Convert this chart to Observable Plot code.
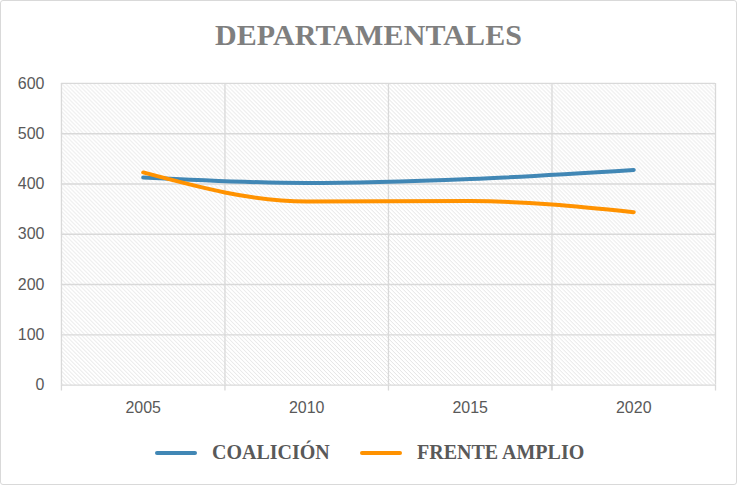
<!DOCTYPE html>
<html>
<head>
<meta charset="utf-8">
<script src="https://cdn.jsdelivr.net/npm/d3@7"></script>
<script src="https://cdn.jsdelivr.net/npm/@observablehq/plot@0.6"></script>
<style>
  html, body { margin: 0; padding: 0; background: #fff; }
  #frame { position: relative; width: 735px; height: 483px; border: 1px solid #d9d9d9; border-radius: 3px; overflow: hidden; background: #fff; }
  #title { position: absolute; left: 0; width: 735px; top: 17px; text-align: center; font-family: "Liberation Serif", serif; font-weight: bold; font-size: 30px; color: #7f7f7f; letter-spacing: 0.1px; }
  #chart { position: absolute; left: -1px; top: 61px; }
  #legend { position: absolute; top: 440px; left: 0; width: 735px; font-family: "Liberation Serif", serif; font-weight: bold; font-size: 20px; color: #595959; }
  .item { position: absolute; display: flex; align-items: center; }
  .swatch { width: 42px; height: 4px; border-radius: 2px; margin-right: 15px; }
</style>
</head>
<body>
<div id="frame">
  <div id="title">DEPARTAMENTALES</div>
  <div id="chart"></div>
  <div id="legend"></div>
</div>
<script>
const years = [2005, 2010, 2015, 2020];
const coalicion = [413, 402, 410, 428];
const frenteAmplio = [423, 365, 366, 344];
const seriesNames = ["COALICIÓN", "FRENTE AMPLIO"];
const seriesColors = ["#4187b5", "#ff9200"];
const yTicks = [0, 100, 200, 300, 400, 500, 600];
const bandEdges = [2002.5, 2007.5, 2012.5, 2017.5, 2022.5];

const data = [];
years.forEach((yr, i) => {
  data.push({year: yr, value: coalicion[i], serie: seriesNames[0]});
  data.push({year: yr, value: frenteAmplio[i], serie: seriesNames[1]});
});

const grid = "#d9d9d9";
const plot = Plot.plot({
  width: 737,
  height: 360,
  marginTop: 21,
  marginBottom: 37,
  marginLeft: 61,
  marginRight: 21,
  style: {fontFamily: "'Liberation Sans', sans-serif", fontSize: "16px", color: "#595959", background: "transparent"},
  x: {domain: [2002.5, 2022.5], label: null},
  y: {domain: [0, 600], label: null},
  color: {domain: seriesNames, range: seriesColors},
  marks: [
    Plot.frame({fill: "url(#hatch)", stroke: null}),
    Plot.ruleY(yTicks, {stroke: grid, strokeWidth: 1.3}),
    Plot.ruleX(bandEdges, {y1: 0, y2: 600, stroke: grid, strokeWidth: 1.3}),
    Plot.axisX(bandEdges, {tickSize: 6, tickFormat: () => "", stroke: grid, strokeWidth: 1.3, label: null}),
    Plot.axisX(years, {tickSize: 0, tickPadding: 17, tickFormat: d3.format("d"), fill: "#595959", fontSize: 16, label: null}),
    Plot.axisY(yTicks, {tickSize: 0, tickPadding: 17, fill: "#595959", fontSize: 16, label: null}),
    Plot.line(data, {x: "year", y: "value", z: "serie", stroke: "serie", strokeWidth: 4, curve: "monotone-x", strokeLinecap: "round"})
  ]
});

// hatch pattern definition
const svg = d3.select(plot);
const defs = svg.insert("defs", ":first-child");
const pat = defs.append("pattern").attr("id", "hatch").attr("patternUnits", "userSpaceOnUse").attr("width", 4).attr("height", 4);
pat.append("rect").attr("width", 4).attr("height", 4).attr("fill", "#ffffff");
pat.append("path").attr("d", "M-1,-1 L5,5 M-1,3 L1,5 M3,-1 L5,1").attr("stroke", "#e1e1e1").attr("stroke-width", 0.9);

document.getElementById("chart").appendChild(plot);

const legend = document.getElementById("legend");
const legendX = [154, 359];
seriesNames.forEach((name, i) => {
  const item = document.createElement("div");
  item.className = "item";
  item.style.left = legendX[i] + "px";
  const sw = document.createElement("div");
  sw.className = "swatch";
  sw.style.background = seriesColors[i];
  const label = document.createElement("span");
  label.textContent = name;
  item.appendChild(sw);
  item.appendChild(label);
  legend.appendChild(item);
});
</script>
</body>
</html>
